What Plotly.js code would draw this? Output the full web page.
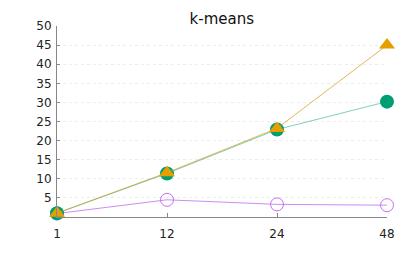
<!DOCTYPE html>
<html>
<head>
<meta charset="utf-8">
<script src="https://cdn.plot.ly/plotly-3.0.1.min.js"></script>
<style>html,body{margin:0;padding:0;background:#fff;}#chart{width:407px;height:255px;}</style>
</head>
<body>
<div id="chart"></div>
<script>
const categories = ['1', '12', '24', '48'];
const seriesTriangle = [1.0, 11.6, 23.2, 45.0];
const seriesFilled = [1.0, 11.4, 22.9, 30.2];
const seriesOpen = [0.9, 4.5, 3.3, 3.1];
const yTickVals = [5, 10, 15, 20, 25, 30, 35, 40, 45, 50];

const traces = [
  {
    x: categories, y: seriesOpen, mode: 'lines+markers', type: 'scatter',
    line: {color: 'rgba(190,100,235,0.75)', width: 1},
    marker: {symbol: 'circle-open', size: 13, color: '#c56ff0', line: {width: 1, color: '#c56ff0'}},
    cliponaxis: false, showlegend: false
  },
  {
    x: categories, y: seriesFilled, mode: 'lines+markers', type: 'scatter',
    line: {color: 'rgba(0,158,115,0.5)', width: 1},
    marker: {symbol: 'circle', size: 14, color: '#009E73'},
    cliponaxis: false, showlegend: false
  },
  {
    x: categories, y: seriesTriangle, mode: 'lines+markers', type: 'scatter',
    line: {color: 'rgba(210,160,40,0.75)', width: 1},
    marker: {symbol: 'triangle-up', size: 14, color: '#E69F00'},
    cliponaxis: false, showlegend: false
  }
];

const layout = {
  width: 407, height: 255,
  margin: {l: 57, r: 20, t: 26, b: 38},
  paper_bgcolor: '#fff', plot_bgcolor: '#fff',
  font: {family: 'DejaVu Sans', size: 12, color: '#222'},
  title: {text: 'k-means', x: 0.545, xanchor: 'center', y: 0.925, yanchor: 'middle', font: {family: 'DejaVu Sans', size: 15, color: '#111'}},
  xaxis: {
    type: 'category', range: [0, 3], showgrid: false, zeroline: false,
    showline: true, linecolor: '#888', linewidth: 1,
    ticks: 'inside', ticklen: 4, tickcolor: '#888', ticklabelstandoff: 6,
    tickfont: {family: 'DejaVu Sans', size: 12, color: '#222'}
  },
  yaxis: {
    range: [0, 50], tickvals: yTickVals, ticktext: yTickVals.map(String),
    showgrid: true, gridcolor: '#ececec', griddash: 'dot', gridwidth: 1,
    zeroline: false, showline: true, linecolor: '#888', linewidth: 1,
    ticks: 'inside', ticklen: 3, tickcolor: '#888', ticklabelstandoff: 2,
    tickfont: {family: 'DejaVu Sans', size: 12, color: '#222'}
  }
};

Plotly.newPlot('chart', traces, layout, {staticPlot: true, displayModeBar: false});
</script>
</body>
</html>
